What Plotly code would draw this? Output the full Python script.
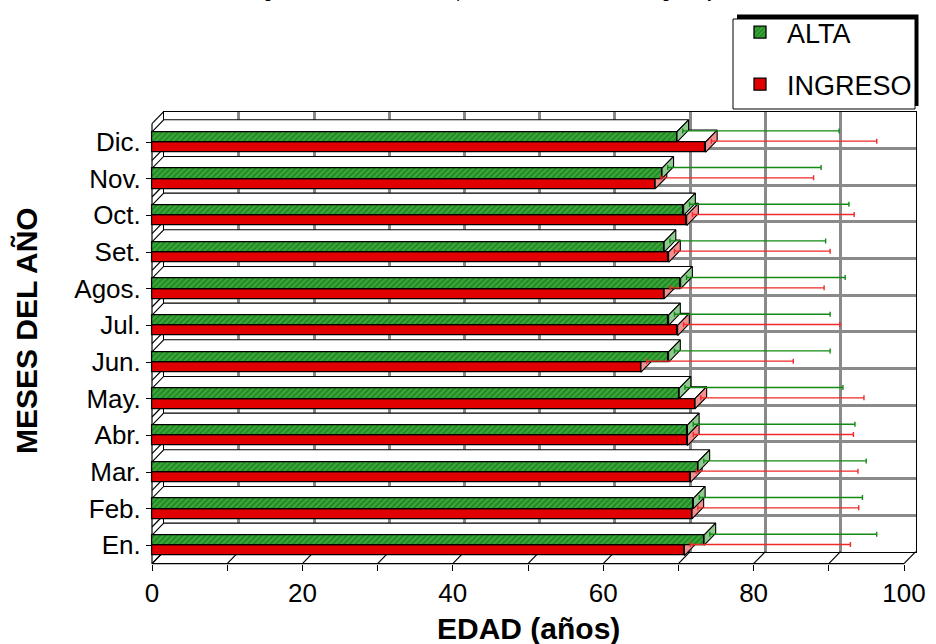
import plotly.graph_objects as go

# ---- data (January at the bottom, December at the top) ----
MONTHS = ["En.", "Feb.", "Mar.", "Abr.", "May.", "Jun.", "Jul.", "Agos.", "Set.", "Oct.", "Nov.", "Dic."]
ALTA = [73.4, 72.0, 72.6, 71.2, 70.1, 68.7, 68.7, 70.3, 68.1, 70.7, 67.8, 69.8]
INGRESO = [70.8, 71.8, 71.6, 71.2, 72.2, 65.0, 69.9, 68.1, 68.7, 71.1, 66.9, 73.6]
ALTA_DE = [22.2, 21.7, 21.6, 21.5, 21.0, 20.7, 20.7, 21.1, 20.7, 21.2, 20.4, 20.8]
INGRESO_DE = [21.3, 21.4, 21.5, 21.3, 21.7, 19.5, 20.8, 20.5, 20.7, 21.5, 20.3, 22.0]
X_TICKS = list(range(0, 101, 10))
X_LABELS = [str(t) if t % 20 == 0 else "" for t in X_TICKS]

TITLE = "Edad según meses del año de los pacientes al momento del ingreso y alta"
X_TITLE = "<b>EDAD (años)</b>"
Y_TITLE = "<b>MESES DEL AÑO</b>"

FONT = "Arial, Liberation Sans, sans-serif"
W, H = 936, 644

# ---- geometry of the pseudo 3-D box (pixels) ----
FX0, FX1 = 152.0, 904.0        # front plane: x = 0 and x = 100
FY0, FY1 = 563.7, 123.7        # front plane: bottom and top of category band
DEPTH_X, DEPTH_Y = 11.7, 12.0  # offset of the back wall
XMAX = 100.0
NCAT = len(MONTHS)
SX = (FX1 - FX0) / XMAX
SY = (FY0 - FY1) / NCAT
DXU = DEPTH_X / SX             # depth offset in data units
DYU = DEPTH_Y / SY
BAR_W = 0.28                   # bar thickness in category units

GREEN = "#3aa83a"
GREEN_DARK = "#0a5e0a"
GREEN_SIDE = "#8fcb8f"
RED = "#e00000"
RED_SIDE = "#f29090"


def dom_x(a, b, shift=0.0):
    return [(FX0 + a * SX + shift) / W, (FX0 + b * SX + shift) / W]


def dom_y(a, b, shift=0.0):
    ya = FY0 - (a + 0.5) * SY - shift
    yb = FY0 - (b + 0.5) * SY - shift
    return [1 - ya / H, 1 - yb / H]


XR = [-0.5, XMAX + DXU + 0.5]
YR = [-0.65, NCAT - 0.5 + DYU + 0.15]


def polys(quads):
    xs, ys = [], []
    for q in quads:
        for x, y in q + [q[0]]:
            xs.append(x)
            ys.append(y)
        xs.append(None)
        ys.append(None)
    return xs, ys


idx = list(range(NCAT))

# faces of the INGRESO bars (lower bar of each pair)
ing_top = [[(0, i), (v, i), (v + DXU, i + DYU), (DXU, i + DYU)] for i, v in zip(idx, INGRESO)]
ing_end = [[(v, i - BAR_W), (v, i), (v + DXU, i + DYU), (v + DXU, i - BAR_W + DYU)]
           for i, v in zip(idx, INGRESO)]
# faces of the ALTA bars (upper bar of each pair)
alt_top = [[(0, i + BAR_W), (v, i + BAR_W), (v + DXU, i + BAR_W + DYU), (DXU, i + BAR_W + DYU)]
           for i, v in zip(idx, ALTA)]
alt_end = [[(v, i), (v, i + BAR_W), (v + DXU, i + BAR_W + DYU), (v + DXU, i + DYU)]
           for i, v in zip(idx, ALTA)]


def face_trace(quads, color, axes):
    xs, ys = polys(quads)
    return go.Scatter(x=xs, y=ys, mode="lines", fill="toself", fillcolor=color,
                      line=dict(color="black", width=1.1), hoverinfo="skip",
                      showlegend=False, xaxis=axes[0], yaxis=axes[1])


# floor and left wall edges
seg_x, seg_y = [], []
for t in X_TICKS:
    seg_x += [t, t + DXU, None]
    seg_y += [-0.5, -0.5 + DYU, None]
for k in range(NCAT + 1):
    b = k - 0.5
    seg_x += [0, DXU, None]
    seg_y += [b, b + DYU, None]
seg_x += [0, XMAX, None, 0, 0, None]
seg_y += [-0.5, -0.5, None, -0.5, NCAT - 0.5, None]

fig = go.Figure()

# 1) back wall: grid only (axes x / y)
fig.add_trace(go.Scatter(x=[None], y=[None], showlegend=False, hoverinfo="skip",
                         xaxis="x", yaxis="y"))
# 2) floor / left wall edges
fig.add_trace(go.Scatter(x=seg_x, y=seg_y, mode="lines", line=dict(color="black", width=1.2),
                         hoverinfo="skip", showlegend=False, xaxis="x2", yaxis="y2"))
# 3) INGRESO hidden-side faces
fig.add_trace(face_trace(ing_top, "white", ("x3", "y3")))
fig.add_trace(face_trace(ing_end, RED_SIDE, ("x3", "y3")))
# 4) INGRESO bars and ALTA side faces
fig.add_trace(go.Bar(name="INGRESO", y=idx, x=INGRESO, orientation="h", base=0,
                     width=BAR_W, offset=-BAR_W, legendrank=2, legendgroup="b",
                     marker=dict(color=RED, line=dict(color="black", width=1.3)),
                     hoverinfo="x", xaxis="x4", yaxis="y4"))
fig.add_trace(face_trace(alt_top, "white", ("x4", "y4")))
fig.add_trace(face_trace(alt_end, GREEN_SIDE, ("x4", "y4")))
# 5) ALTA bars
fig.add_trace(go.Bar(name="ALTA", y=idx, x=ALTA, orientation="h", base=0,
                     width=BAR_W, offset=0, legendrank=1, legendgroup="a",
                     marker=dict(color=GREEN, line=dict(color="black", width=1.3),
                                 pattern=dict(shape="/", fgcolor=GREEN_DARK, bgcolor=GREEN,
                                              size=4, solidity=0.45)),
                     hoverinfo="x", xaxis="x5", yaxis="y5"))
# 6) standard deviation whiskers, drawn at mid depth
fig.add_trace(go.Scatter(x=ALTA, y=[i + BAR_W / 2 for i in idx], mode="markers",
                         marker=dict(size=1, color="rgba(0,0,0,0)"),
                         error_x=dict(type="data", symmetric=False, array=ALTA_DE,
                                      arrayminus=[0] * NCAT, color="#138a13",
                                      thickness=1.4, width=2.5),
                         showlegend=False, hoverinfo="skip", xaxis="x6", yaxis="y6"))
fig.add_trace(go.Scatter(x=INGRESO, y=[i - BAR_W / 2 for i in idx], mode="markers",
                         marker=dict(size=1, color="rgba(0,0,0,0)"),
                         error_x=dict(type="data", symmetric=False, array=INGRESO_DE,
                                      arrayminus=[0] * NCAT, color="#ee2a2a",
                                      thickness=1.4, width=2.5),
                         showlegend=False, hoverinfo="skip", xaxis="x6", yaxis="y6"))
# 7) front axes carrying the tick labels
fig.add_trace(go.Scatter(x=[None], y=[None], showlegend=False, hoverinfo="skip",
                         xaxis="x7", yaxis="y7"))

hidden = dict(visible=False, fixedrange=True, automargin=False)
layout = dict(
    width=W, height=H, autosize=False,
    margin=dict(l=0, r=0, t=0, b=0, autoexpand=False),
    paper_bgcolor="white", plot_bgcolor="rgba(0,0,0,0)",
    barmode="overlay", bargap=0,
    font=dict(family=FONT, color="black", size=26),
    xaxis=dict(domain=dom_x(0, XMAX, DEPTH_X), range=[0, XMAX], anchor="y",
               tickvals=X_TICKS, showticklabels=False, ticks="", automargin=False,
               showgrid=True, gridcolor="#8a8a8a", gridwidth=2.5, zeroline=False,
               showline=True, mirror=True, linecolor="black", linewidth=1.3),
    yaxis=dict(domain=dom_y(-0.5, NCAT - 0.5, DEPTH_Y), range=[-0.5, NCAT - 0.5], anchor="x",
               tickvals=[k - 0.5 for k in range(NCAT + 1)], showticklabels=False, ticks="",
               automargin=False,
               showgrid=True, gridcolor="#8a8a8a", gridwidth=2.5, zeroline=False,
               showline=True, mirror=True, linecolor="black", linewidth=1.3),
    xaxis7=dict(domain=dom_x(0, XMAX), range=[0, XMAX], anchor="y7", automargin=False,
                tickvals=X_TICKS, ticktext=X_LABELS, ticks="outside", ticklen=6,
                tickwidth=1.3, tickcolor="black", showgrid=False, zeroline=False,
                showline=False, ticklabelstandoff=0, tickfont=dict(size=26)),
    yaxis7=dict(domain=dom_y(-0.5, NCAT - 0.5), range=[-0.5, NCAT - 0.5], anchor="x7",
                automargin=False,
                tickvals=idx, ticktext=MONTHS, ticks="outside", ticklen=5,
                tickwidth=1.3, tickcolor="black", showgrid=False, zeroline=False,
                showline=False, tickfont=dict(size=26)),
)
for n in (2, 3, 4, 5):
    layout[f"xaxis{n}"] = dict(domain=dom_x(*XR), range=XR, anchor=f"y{n}", **hidden)
    layout[f"yaxis{n}"] = dict(domain=dom_y(*YR), range=YR, anchor=f"x{n}", **hidden)
layout["xaxis6"] = dict(domain=dom_x(*XR, shift=DEPTH_X / 2), range=XR, anchor="y6", **hidden)
layout["yaxis6"] = dict(domain=dom_y(*YR, shift=DEPTH_Y / 2), range=YR, anchor="x6", **hidden)

fig.update_layout(**layout)

# legend: frame with a solid shadow, entries from the two bar traces
fig.update_layout(
    showlegend=True,
    legend=dict(x=733 / W, y=1 - 8 / H, xanchor="left", yanchor="top",
                bgcolor="rgba(0,0,0,0)", borderwidth=0,
                font=dict(size=27), itemwidth=44, tracegroupgap=14,
                traceorder="grouped"),
    shapes=[
        dict(type="rect", xref="paper", yref="paper",
             x0=737 / W, x1=918.5 / W, y0=1 - 106 / H, y1=1 - 14.5 / H,
             fillcolor="black", line=dict(width=0), layer="above"),
        dict(type="rect", xref="paper", yref="paper",
             x0=733 / W, x1=915 / W, y0=1 - 109 / H, y1=1 - 19 / H,
             fillcolor="white", line=dict(color="black", width=1), layer="above"),
    ],
    annotations=[
        dict(text=TITLE, xref="paper", yref="paper", x=475 / W, y=1, xanchor="center",
             yanchor="bottom", yshift=-3, showarrow=False, font=dict(size=16.5)),
        dict(text=X_TITLE, xref="paper", yref="paper", x=528 / W, y=1 - 628 / H,
             xanchor="center", yanchor="middle", showarrow=False, font=dict(size=30)),
        dict(text=Y_TITLE, xref="paper", yref="paper", x=26 / W, y=1 - 331 / H,
             xanchor="center", yanchor="middle", textangle=-90, showarrow=False,
             font=dict(size=30)),
    ],
)

fig.write_html("out.html")
